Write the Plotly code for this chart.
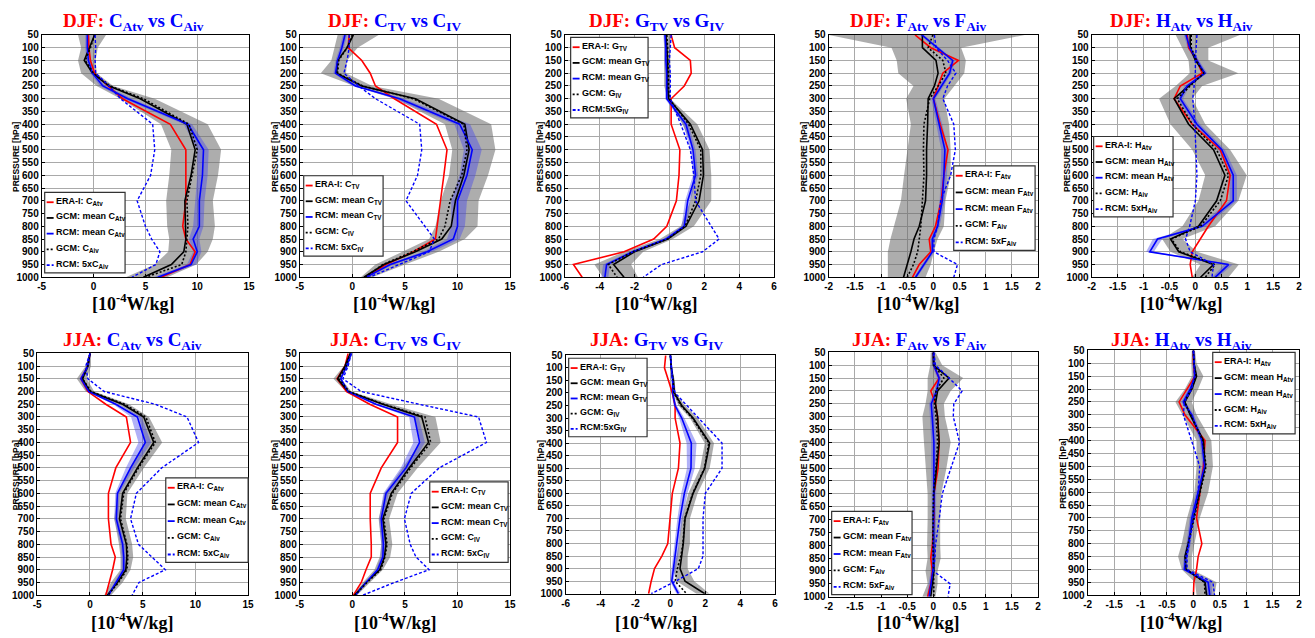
import plotly.graph_objects as go

# Pressure levels (hPa)
P = [50, 100, 150, 200, 250, 300, 400, 500, 600, 700, 800, 850, 900, 950, 1000]
Y_TICKS = list(range(50, 1001, 50))

# ---------------- DJF: C_Atv vs C_Aiv ----------------
DJF_CA_ERA = [-0.5, -0.45, -0.3, 0.1, 1.4, 2.8, 7.4, 8.9, 8.9, 8.9, 8.6, 8.9, 9.8, 9.3, 6.5]
DJF_CA_GCM = [0.1, -0.4, -0.9, -0.1, 1.5, 4.5, 9.0, 9.8, 9.4, 8.8, 8.9, 8.9, 8.7, 7.5, 4.8]
DJF_CA_RCM = [-0.6, -0.6, -0.5, -0.1, 0.9, 3.3, 9.1, 10.6, 10.5, 10.2, 10.2, 9.6, 10.0, 9.4, 6.2]
DJF_CA_GIV = [0.1, -0.3, -0.8, 0.0, 1.6, 4.8, 9.2, 10.0, 9.5, 9.0, 9.1, 9.0, 8.9, 8.5, 5.0]
DJF_CA_R5 = [0.15, 0.2, 0.15, 0.2, 1.5, 2.6, 5.7, 5.9, 5.5, 4.2, 5.0, 5.6, 6.4, 6.0, 3.7]
DJF_CA_GLO = [-1.5, -1.2, -1.5, -1.2, 0.3, 2.6, 6.5, 7.5, 7.3, 7.0, 7.1, 7.3, 7.2, 5.9, 3.1]
DJF_CA_GHI = [1.2, 0.4, 0.2, 0.3, 1.9, 5.9, 11.0, 12.3, 12.0, 11.5, 11.7, 11.5, 11.0, 9.9, 7.1]
DJF_CA_RLO = [-0.8, -0.8, -0.7, -0.3, 0.6, 2.9, 8.7, 10.0, 10.0, 9.8, 9.6, 9.2, 9.6, 9.0, 5.8]
DJF_CA_RHI = [-0.4, -0.4, -0.3, 0.1, 1.2, 3.7, 9.5, 11.1, 11.0, 10.7, 10.6, 10.2, 10.4, 9.9, 6.6]

# ---------------- DJF: C_TV vs C_IV ----------------
DJF_CT_ERA = [-0.3, -0.4, 0.9, 1.7, 2.2, 4.0, 8.0, 9.0, 8.7, 8.4, 8.1, 7.9, 5.8, 3.2, 1.3]
DJF_CT_GCM = [0.1, -0.5, -1.4, -1.5, 0.9, 6.0, 10.7, 11.1, 10.6, 9.8, 9.4, 8.5, 6.0, 3.0, 1.1]
DJF_CT_RCM = [-0.7, -1.0, -1.4, -1.6, 0.3, 4.5, 10.2, 11.4, 10.9, 10.0, 10.0, 9.6, 7.1, 3.6, 1.3]
DJF_CT_GIV = [0.0, -0.5, -1.3, -1.4, 1.0, 5.8, 10.6, 10.9, 10.4, 9.3, 8.8, 8.2, 5.7, 2.9, 1.2]
DJF_CT_R5 = [-0.3, -0.3, -0.5, -0.8, 0.6, 2.2, 6.4, 6.6, 6.2, 5.1, 6.9, 7.8, 7.3, 4.4, 1.6]
DJF_CT_GLO = [-1.4, -1.7, -2.0, -3.0, 0.2, 4.1, 8.8, 9.5, 9.2, 8.4, 7.9, 7.3, 4.7, 2.2, 0.8]
DJF_CT_GHI = [2.5, 0.5, -0.5, -0.6, 1.9, 8.2, 13.2, 13.6, 12.9, 12.0, 11.9, 10.7, 8.2, 5.0, 1.9]
DJF_CT_RLO = [-0.9, -1.2, -1.6, -1.8, 0.0, 4.0, 9.7, 10.6, 10.2, 9.4, 9.4, 9.0, 6.7, 3.3, 1.1]
DJF_CT_RHI = [-0.5, -0.8, -1.2, -1.4, 0.6, 4.9, 11.2, 12.3, 11.7, 10.9, 10.7, 10.2, 7.6, 3.9, 1.5]

# ---------------- DJF: G_TV vs G_IV ----------------
DJF_G_ERA = [0.1, 0.3, 1.2, 1.25, 0.85, 0.1, 0.1, 0.6, 0.55, 0.4, -0.15, -0.9, -2.6, -5.5, -5.0]
DJF_G_GCM = [-0.2, -0.15, -0.1, -0.1, -0.1, -0.05, 1.2, 1.9, 1.95, 1.7, 0.95, -0.1, -2.0, -3.2, -2.6]
DJF_G_RCM = [-0.25, -0.2, -0.2, -0.15, -0.15, -0.15, 0.95, 1.35, 1.5, 1.05, 0.85, -0.2, -2.1, -3.6, -3.7]
DJF_G_GIV = [-0.15, -0.1, -0.1, -0.05, -0.05, 0.0, 1.1, 1.8, 1.8, 1.5, 0.9, -0.1, -2.1, -3.5, -3.0]
DJF_G_R5 = [0.1, 0.05, 0.0, 0.05, 0.05, 0.05, 0.65, 1.2, 1.4, 1.5, 2.4, 2.85, 1.9, -0.45, -1.5]
DJF_G_GLO = [-0.3, -0.3, -0.3, -0.3, -0.3, -0.1, 0.75, 1.4, 1.4, 1.2, 0.65, -0.55, -2.6, -4.3, -3.8]
DJF_G_GHI = [0.1, 0.05, 0.05, 0.05, 0.05, 0.05, 1.6, 2.3, 2.4, 2.4, 1.4, 0.2, -1.5, -2.2, -1.8]
DJF_G_RLO = [-0.35, -0.3, -0.3, -0.25, -0.25, -0.25, 0.8, 1.2, 1.35, 0.9, 0.7, -0.35, -2.3, -3.8, -3.9]
DJF_G_RHI = [-0.15, -0.1, -0.1, -0.05, -0.05, -0.05, 1.1, 1.5, 1.65, 1.2, 1.0, -0.05, -1.9, -3.4, -3.5]

# ---------------- DJF: F_Atv vs F_Aiv ----------------
DJF_F_ERA = [-0.35, -0.05, 0.48, 0.18, 0.09, 0.0, 0.13, 0.28, 0.20, 0.15, 0.04, -0.08, -0.05, -0.27, -0.40]
DJF_F_GCM = [-0.21, -0.21, 0.05, 0.09, 0.02, -0.10, -0.11, -0.13, -0.13, -0.15, -0.27, -0.37, -0.43, -0.50, -0.57]
DJF_F_RCM = [-0.22, 0.08, 0.37, 0.31, 0.15, 0.00, 0.11, 0.22, 0.20, 0.17, 0.08, -0.02, -0.02, -0.18, -0.34]
DJF_F_GIV = [-0.01, -0.10, 0.18, 0.24, 0.09, -0.07, -0.18, -0.19, -0.18, -0.21, -0.24, -0.27, -0.30, -0.38, -0.50]
DJF_F_R5 = [0.02, 0.05, 0.27, 0.43, 0.27, 0.18, 0.39, 0.42, 0.33, 0.14, 0.08, 0.01, 0.01, 0.46, 0.39]
DJF_F_GLO = [-2.0, -0.8, -0.70, -0.67, -0.38, -0.52, -0.43, -0.50, -0.56, -0.62, -0.75, -0.82, -0.87, -0.87, -0.87]
DJF_F_GHI = [1.75, 0.53, 0.62, 0.59, 0.40, 0.21, 0.30, 0.33, 0.33, 0.23, 0.20, 0.08, 0.01, -0.05, -0.15]
DJF_F_RLO = [-0.26, 0.04, 0.33, 0.27, 0.10, -0.04, 0.05, 0.15, 0.14, 0.12, 0.04, -0.06, -0.06, -0.22, -0.37]
DJF_F_RHI = [-0.18, 0.12, 0.41, 0.35, 0.19, 0.04, 0.17, 0.28, 0.26, 0.22, 0.12, 0.02, 0.02, -0.14, -0.31]

# ---------------- DJF: H_Atv vs H_Aiv ----------------
DJF_H_ERA = [-0.16, -0.13, 0.03, 0.13, -0.29, -0.41, -0.06, 0.48, 0.67, 0.60, 0.25, 0.10, -0.06, -0.10, -0.06]
DJF_H_GCM = [-0.10, -0.10, 0.00, 0.18, -0.13, -0.41, -0.13, 0.35, 0.57, 0.41, 0.06, -0.48, -0.32, 0.35, 0.10]
DJF_H_RCM = [-0.18, -0.11, 0.03, 0.18, -0.16, -0.29, 0.03, 0.51, 0.73, 0.73, 0.13, -0.73, -0.88, 0.64, 0.38]
DJF_H_GIV = [-0.08, -0.08, 0.02, 0.16, -0.10, -0.35, -0.06, 0.41, 0.64, 0.48, 0.10, -0.46, -0.29, 0.38, 0.19]
DJF_H_R5 = [0.03, 0.01, 0.00, 0.00, -0.03, -0.05, -0.01, 0.01, 0.03, 0.00, -0.11, -0.19, -0.10, 0.35, 0.32]
DJF_H_GLO = [-0.38, -0.25, -0.13, -0.11, -0.38, -0.70, -0.48, -0.06, 0.19, 0.06, -0.25, -0.64, -0.48, 0.10, -0.06]
DJF_H_GHI = [0.86, 0.25, 0.25, 0.83, 0.13, -0.06, 0.19, 0.67, 0.99, 0.83, 0.38, -0.25, 0.03, 0.84, 0.64]
DJF_H_RLO = [-0.22, -0.15, -0.01, 0.13, -0.21, -0.34, -0.03, 0.45, 0.66, 0.66, 0.06, -0.82, -0.95, 0.56, 0.32]
DJF_H_RHI = [-0.14, -0.07, 0.07, 0.23, -0.11, -0.24, 0.09, 0.57, 0.80, 0.80, 0.20, -0.64, -0.80, 0.72, 0.44]

# ---------------- JJA: C_Atv vs C_Aiv ----------------
JJA_CA_ERA = [0.0, -0.2, -0.85, -0.2, 1.5, 3.45, 3.85, 2.45, 1.75, 1.75, 2.0, 2.4, 2.15, 1.8, 1.5]
JJA_CA_GCM = [0.0, -0.2, -0.7, 0.0, 3.1, 5.1, 6.05, 4.5, 3.1, 2.8, 3.45, 3.5, 3.4, 2.6, 1.65]
JJA_CA_RCM = [0.0, -0.2, -0.85, -0.1, 2.45, 4.5, 5.25, 3.85, 2.6, 2.5, 3.1, 3.2, 3.2, 2.45, 1.75]
JJA_CA_GIV = [0.0, -0.2, -0.7, 0.1, 3.3, 5.3, 6.2, 4.6, 3.2, 2.9, 3.5, 3.6, 3.5, 2.7, 1.7]
JJA_CA_R5 = [0.0, -0.4, -0.2, 1.35, 6.2, 9.2, 10.3, 6.8, 4.4, 3.85, 4.6, 5.9, 7.15, 4.65, 4.0]
JJA_CA_GLO = [-0.05, -0.4, -1.25, -0.4, 2.7, 4.65, 5.25, 3.85, 2.6, 2.3, 2.75, 2.9, 2.9, 2.0, 1.35]
JJA_CA_GHI = [0.1, 0.1, -0.3, 0.4, 3.7, 5.6, 6.85, 5.1, 3.55, 3.4, 4.0, 4.1, 3.85, 3.1, 2.0]
JJA_CA_RLO = [-0.05, -0.3, -1.0, -0.3, 2.2, 3.9, 4.6, 3.4, 2.4, 2.3, 2.9, 3.0, 3.0, 2.3, 1.6]
JJA_CA_RHI = [0.05, -0.1, -0.7, 0.1, 2.7, 4.9, 5.8, 4.2, 2.8, 2.7, 3.3, 3.4, 3.4, 2.6, 1.9]

# ---------------- JJA: C_TV vs C_IV ----------------
JJA_CT_ERA = [-0.4, -0.7, -1.45, -0.55, 1.65, 4.3, 4.3, 2.75, 1.7, 1.7, 1.8, 1.8, 1.3, 0.85, 0.1]
JJA_CT_GCM = [-0.2, -0.7, -1.4, -0.4, 2.9, 6.6, 7.25, 5.4, 3.7, 2.9, 3.2, 3.05, 2.6, 1.3, 0.2]
JJA_CT_RCM = [-0.1, -0.55, -1.1, -0.4, 2.25, 5.9, 6.4, 5.1, 3.2, 2.75, 2.95, 2.9, 2.4, 1.3, 0.3]
JJA_CT_GIV = [-0.2, -0.6, -1.3, -0.3, 3.0, 6.9, 7.45, 5.55, 3.8, 3.0, 3.3, 3.1, 2.7, 1.4, 0.25]
JJA_CT_R5 = [-0.1, -0.4, -0.9, 0.85, 6.35, 12.0, 12.75, 8.25, 5.6, 4.95, 5.5, 6.05, 7.3, 4.0, 1.0]
JJA_CT_GLO = [-0.25, -0.8, -1.8, -0.6, 2.6, 5.9, 6.5, 4.8, 3.05, 2.5, 2.75, 2.6, 2.1, 1.0, 0.1]
JJA_CT_GHI = [0.0, -0.4, -1.05, -0.1, 3.7, 7.9, 8.4, 6.2, 4.3, 3.5, 3.8, 3.6, 2.9, 1.65, 0.45]
JJA_CT_RLO = [-0.2, -0.65, -1.2, -0.5, 2.0, 5.4, 5.8, 4.6, 2.95, 2.55, 2.75, 2.7, 2.25, 1.2, 0.2]
JJA_CT_RHI = [0.0, -0.45, -1.0, -0.3, 2.5, 6.3, 6.9, 5.5, 3.45, 2.95, 3.15, 3.1, 2.55, 1.4, 0.4]

# ---------------- JJA: G_TV vs G_IV ----------------
JJA_G_ERA = [-0.27, -0.34, -0.11, 0.11, 0.27, 0.27, 0.55, 0.46, 0.11, -0.02, -0.15, -0.49, -0.91, -1.1, -1.25]
JJA_G_GCM = [0.0, 0.05, 0.17, 0.23, 0.65, 1.3, 2.25, 1.97, 1.3, 0.84, 0.74, 0.65, 0.55, 0.84, 1.97]
JJA_G_RCM = [0.0, 0.08, 0.13, 0.13, 0.27, 0.65, 1.2, 1.18, 0.8, 0.55, 0.36, 0.3, 0.17, 0.08, 0.46]
JJA_G_GIV = [0.0, 0.05, 0.15, 0.2, 0.6, 1.25, 2.2, 1.95, 1.28, 0.82, 0.72, 0.6, 0.4, 0.27, 0.93]
JJA_G_R5 = [0.0, 0.04, 0.11, 0.27, 0.93, 1.6, 2.96, 2.96, 2.0, 1.87, 1.87, 1.87, 1.6, 0.3, -1.1]
JJA_G_GLO = [-0.05, 0.0, 0.1, 0.15, 0.46, 1.12, 1.97, 1.7, 1.03, 0.65, 0.49, 0.36, 0.17, 0.36, 1.5]
JJA_G_GHI = [0.05, 0.1, 0.25, 0.3, 0.84, 1.56, 2.5, 2.25, 1.56, 1.12, 1.12, 0.99, 0.99, 1.37, 2.25]
JJA_G_RLO = [-0.03, 0.03, 0.07, 0.07, 0.18, 0.5, 0.93, 0.95, 0.62, 0.4, 0.22, 0.16, 0.05, -0.02, 0.35]
JJA_G_RHI = [0.03, 0.12, 0.19, 0.19, 0.36, 0.8, 1.5, 1.4, 0.98, 0.7, 0.5, 0.44, 0.3, 0.18, 0.6]

# ---------------- JJA: F_Atv vs F_Aiv ----------------
JJA_F_ERA = [0.0, 0.01, 0.11, -0.05, 0.04, 0.08, 0.11, 0.09, 0.01, 0.01, -0.02, -0.05, -0.02, -0.05, -0.11]
JJA_F_GCM = [0.0, 0.0, 0.30, 0.08, 0.04, 0.08, 0.11, 0.06, 0.01, 0.0, 0.0, 0.01, 0.01, -0.02, -0.05]
JJA_F_RCM = [0.0, 0.01, 0.11, 0.06, -0.04, -0.02, 0.01, 0.01, 0.01, 0.01, 0.01, 0.0, -0.01, -0.05, -0.08]
JJA_F_GIV = [0.0, 0.01, 0.20, 0.05, 0.02, 0.05, 0.08, 0.05, 0.0, -0.01, -0.01, 0.0, 0.0, 0.0, 0.01]
JJA_F_R5 = [0.01, 0.04, 0.30, 0.55, 0.39, 0.38, 0.50, 0.33, 0.17, 0.11, 0.04, 0.03, 0.0, 0.32, 0.28]
JJA_F_GLO = [-0.05, -0.06, -0.11, -0.11, -0.15, -0.21, -0.18, -0.15, -0.11, -0.11, -0.12, -0.11, -0.15, -0.11, -0.21]
JJA_F_GHI = [0.04, 0.17, 0.57, 0.33, 0.20, 0.22, 0.33, 0.25, 0.15, 0.13, 0.13, 0.14, 0.08, 0.08, 0.04]
JJA_F_RLO = [-0.02, -0.02, 0.07, 0.02, -0.08, -0.07, -0.04, -0.04, -0.03, -0.03, -0.03, -0.04, -0.05, -0.09, -0.12]
JJA_F_RHI = [0.02, 0.04, 0.15, 0.10, 0.00, 0.03, 0.06, 0.06, 0.05, 0.05, 0.05, 0.04, 0.03, -0.01, -0.04]

# ---------------- JJA: H_Atv vs H_Aiv ----------------
JJA_H_ERA = [0.0, 0.0, 0.03, -0.12, -0.27, -0.16, 0.22, 0.19, 0.12, 0.06, 0.16, 0.09, 0.06, 0.01, 0.0]
JJA_H_GCM = [0.0, 0.01, 0.06, -0.03, -0.16, -0.06, 0.19, 0.22, 0.12, 0.0, -0.10, -0.16, -0.14, 0.22, 0.25]
JJA_H_RCM = [0.0, 0.01, 0.03, -0.06, -0.19, -0.03, 0.16, 0.21, 0.09, -0.03, -0.09, -0.14, -0.17, 0.28, 0.31]
JJA_H_GIV = [0.0, 0.01, 0.05, -0.04, -0.17, -0.05, 0.18, 0.24, 0.13, 0.01, -0.09, -0.15, -0.13, 0.21, 0.22]
JJA_H_R5 = [0.0, 0.01, 0.02, -0.03, -0.17, -0.19, -0.03, 0.12, 0.09, 0.0, -0.08, -0.12, -0.12, 0.37, 0.40]
JJA_H_GLO = [-0.03, -0.04, -0.03, -0.16, -0.34, -0.21, 0.06, 0.06, 0.02, -0.12, -0.22, -0.29, -0.22, 0.03, 0.06]
JJA_H_GHI = [0.03, 0.06, 0.19, 0.09, -0.03, 0.06, 0.34, 0.37, 0.28, 0.12, 0.02, -0.03, -0.03, 0.44, 0.40]
JJA_H_RLO = [-0.02, -0.01, 0.0, -0.1, -0.23, -0.07, 0.12, 0.17, 0.05, -0.07, -0.13, -0.18, -0.21, 0.22, 0.26]
JJA_H_RHI = [0.02, 0.03, 0.06, -0.02, -0.15, 0.01, 0.20, 0.25, 0.13, 0.01, -0.05, -0.10, -0.13, 0.34, 0.36]

# x-axis tick sets
X_TICKS_C = [-5, 0, 5, 10, 15]
X_TICKS_G = [-6, -4, -2, 0, 2, 4, 6]
X_TICKS_FH = [-2, -1.5, -1, -0.5, 0, 0.5, 1, 1.5, 2]

# ---------------- layout geometry (pixels) ----------------
W, H = 1315, 638


def fx(px):
    return px / W


def fy(py):
    return 1 - py / H


RED, BLACK, BLUE = "#ff0000", "#000000", "#0000ff"
GRAY_FILL = "rgba(105,105,105,0.55)"
BLUE_FILL = "rgba(70,70,235,0.42)"
SANS = "Liberation Sans"
SERIF = "Liberation Serif"


def tick_text(v):
    return "%g" % v


panels = [
    dict(season="DJF", L="C", st="Atv", si="Aiv", five="RCM: 5x", xt=X_TICKS_C,
         box=(38, 29.5, 247, 276.5), title_x=130, leg=(41, 190, 122, 272),
         d=(DJF_CA_ERA, DJF_CA_GCM, DJF_CA_RCM, DJF_CA_GIV, DJF_CA_R5, DJF_CA_GLO, DJF_CA_GHI, DJF_CA_RLO, DJF_CA_RHI)),
    dict(season="DJF", L="C", st="TV", si="IV", five="RCM: 5x", xt=X_TICKS_C,
         box=(298, 29.5, 510, 276.5), title_x=393, leg=(302, 173, 382, 255),
         d=(DJF_CT_ERA, DJF_CT_GCM, DJF_CT_RCM, DJF_CT_GIV, DJF_CT_R5, DJF_CT_GLO, DJF_CT_GHI, DJF_CT_RLO, DJF_CT_RHI)),
    dict(season="DJF", L="G", st="TV", si="IV", five="RCM:5x", xt=X_TICKS_G,
         box=(565, 29.5, 776, 276.5), title_x=658, leg=(571, 32, 649, 114),
         d=(DJF_G_ERA, DJF_G_GCM, DJF_G_RCM, DJF_G_GIV, DJF_G_R5, DJF_G_GLO, DJF_G_GHI, DJF_G_RLO, DJF_G_RHI)),
    dict(season="DJF", L="F", st="Atv", si="Aiv", five="RCM: 5x", xt=X_TICKS_FH,
         box=(831, 29.5, 1042, 276.5), title_x=922, leg=(957, 163, 1039, 249),
         d=(DJF_F_ERA, DJF_F_GCM, DJF_F_RCM, DJF_F_GIV, DJF_F_R5, DJF_F_GLO, DJF_F_GHI, DJF_F_RLO, DJF_F_RHI)),
    dict(season="DJF", L="H", st="Atv", si="Aiv", five="RCM: 5x", xt=X_TICKS_FH,
         box=(1096, 29.5, 1305, 276.5), title_x=1187, leg=(1098, 133, 1178, 215),
         d=(DJF_H_ERA, DJF_H_GCM, DJF_H_RCM, DJF_H_GIV, DJF_H_R5, DJF_H_GLO, DJF_H_GHI, DJF_H_RLO, DJF_H_RHI)),
    dict(season="JJA", L="C", st="Atv", si="Aiv", five="RCM: 5x", xt=X_TICKS_C,
         box=(33.5, 354, 246, 600.5), title_x=129, leg=(163, 481, 246, 567),
         d=(JJA_CA_ERA, JJA_CA_GCM, JJA_CA_RCM, JJA_CA_GIV, JJA_CA_R5, JJA_CA_GLO, JJA_CA_GHI, JJA_CA_RLO, JJA_CA_RHI)),
    dict(season="JJA", L="C", st="TV", si="IV", five="RCM: 5x", xt=X_TICKS_C,
         box=(298, 354, 510, 600.5), title_x=394, leg=(429, 485, 508, 567),
         d=(JJA_CT_ERA, JJA_CT_GCM, JJA_CT_RCM, JJA_CT_GIV, JJA_CT_R5, JJA_CT_GLO, JJA_CT_GHI, JJA_CT_RLO, JJA_CT_RHI)),
    dict(season="JJA", L="G", st="TV", si="IV", five="RCM:5x", xt=X_TICKS_G,
         box=(566, 356, 777, 599), title_x=658, leg=(569, 359, 648, 439),
         d=(JJA_G_ERA, JJA_G_GCM, JJA_G_RCM, JJA_G_GIV, JJA_G_R5, JJA_G_GLO, JJA_G_GHI, JJA_G_RLO, JJA_G_RHI)),
    dict(season="JJA", L="F", st="Atv", si="Aiv", five="RCM: 5x", xt=X_TICKS_FH,
         box=(831, 353, 1042, 602), title_x=922, leg=(834, 515, 915, 600),
         d=(JJA_F_ERA, JJA_F_GCM, JJA_F_RCM, JJA_F_GIV, JJA_F_R5, JJA_F_GLO, JJA_F_GHI, JJA_F_RLO, JJA_F_RHI)),
    dict(season="JJA", L="H", st="Atv", si="Aiv", five="RCM: 5x", xt=X_TICKS_FH,
         box=(1092, 351, 1305, 600.5), title_x=1187, leg=(1218, 353, 1301, 436),
         d=(JJA_H_ERA, JJA_H_GCM, JJA_H_RCM, JJA_H_GIV, JJA_H_R5, JJA_H_GLO, JJA_H_GHI, JJA_H_RLO, JJA_H_RHI)),
]

fig = go.Figure()
annotations = []
shapes = []
layout_axes = {}

for k, pn in enumerate(panels, start=1):
    xa = "x" if k == 1 else "x%d" % k
    ya = "y" if k == 1 else "y%d" % k
    era, gcm, rcm, giv, r5, glo, ghi, rlo, rhi = pn["d"]
    L, st, si = pn["L"], pn["st"], pn["si"]

    # GCM spread band
    fig.add_trace(go.Scatter(x=glo + ghi[::-1], y=P + P[::-1], fill="toself",
                             fillcolor=GRAY_FILL, line=dict(width=0), mode="lines",
                             hoverinfo="skip", showlegend=False, xaxis=xa, yaxis=ya))
    # RCM spread band
    fig.add_trace(go.Scatter(x=rlo + rhi[::-1], y=P + P[::-1], fill="toself",
                             fillcolor=BLUE_FILL, line=dict(width=0), mode="lines",
                             hoverinfo="skip", showlegend=False, xaxis=xa, yaxis=ya))
    # profiles
    series = [
        (era, RED, "solid", 1.6),
        (gcm, BLACK, "solid", 1.6),
        (rcm, BLUE, "solid", 1.6),
        (giv, BLACK, "2px,2px", 1.6),
        (r5, BLUE, "3px,2px", 1.4),
    ]
    for xs, col, dash, wd in series:
        fig.add_trace(go.Scatter(x=xs, y=P, mode="lines",
                                 line=dict(color=col, width=wd, dash=dash),
                                 showlegend=False, xaxis=xa, yaxis=ya))

    x0, y0, x1, y1 = pn["box"]
    xt = pn["xt"]
    layout_axes["xaxis" if k == 1 else "xaxis%d" % k] = dict(
        domain=[fx(x0), fx(x1)], anchor=ya, range=[xt[0], xt[-1]],
        tickvals=xt, ticktext=[tick_text(v) for v in xt],
        showgrid=True, gridcolor="#a9a9a9", gridwidth=1, zeroline=False,
        showline=True, mirror=True, linecolor="black", linewidth=1,
        ticks="inside", ticklen=3, tickcolor="black",
        tickfont=dict(family=SANS, size=10, color="black", weight="bold"),
    )
    layout_axes["yaxis" if k == 1 else "yaxis%d" % k] = dict(
        domain=[fy(y1), fy(y0)], anchor=xa, range=[1000, 50],
        tickvals=Y_TICKS, ticktext=[str(v) for v in Y_TICKS],
        showgrid=True, gridcolor="#a9a9a9", gridwidth=1, zeroline=False,
        showline=True, mirror=True, linecolor="black", linewidth=1,
        ticks="inside", ticklen=3, tickcolor="black",
        tickfont=dict(family=SANS, size=10, color="black", weight="bold"),
    )

    # panel title
    top_y = 16 if pn["season"] == "DJF" else 341
    title = ("<b><span style='color:%s'>%s:</span> <span style='color:%s'>%s<sub>%s</sub> vs %s<sub>%s</sub></span></b>"
             % (RED, pn["season"], BLUE, L, st, L, si))
    annotations.append(dict(x=fx(pn["title_x"]), y=fy(top_y), xref="paper", yref="paper",
                            text=title, showarrow=False, xanchor="center", yanchor="middle",
                            font=dict(family=SERIF, size=19)))
    # x-axis title
    xt_y = 302 if pn["season"] == "DJF" else 627
    annotations.append(dict(x=fx(pn["title_x"]), y=fy(xt_y), xref="paper", yref="paper",
                            text="<b>[10<sup>-4</sup>W/kg]</b>", showarrow=False,
                            xanchor="center", yanchor="middle",
                            font=dict(family=SERIF, size=18, color="black")))
    # y-axis title
    ylab_x = x0 - 25 if x0 > 40 else 12
    annotations.append(dict(x=fx(ylab_x), y=fy((y0 + y1) / 2), xref="paper", yref="paper",
                            text="<b>PRESSURE [hPa]</b>", showarrow=False, textangle=-90,
                            xanchor="center", yanchor="middle",
                            font=dict(family=SANS, size=8.5, color="black")))

    # legend box
    lx0, ly0, lx1, ly1 = pn["leg"]
    shapes.append(dict(type="rect", xref="paper", yref="paper",
                       x0=fx(lx0), x1=fx(lx1), y0=fy(ly1), y1=fy(ly0),
                       fillcolor="white", line=dict(color="#333333", width=1.2), layer="above"))
    labels = [
        "ERA-I: %s<sub>%s</sub>" % (L, st),
        "GCM: mean %s<sub>%s</sub>" % (L, st),
        "RCM: mean %s<sub>%s</sub>" % (L, st),
        "GCM: %s<sub>%s</sub>" % (L, si),
        "%s%s<sub>%s</sub>" % (pn["five"], L, si),
    ]
    step = (ly1 - ly0 - 18) / 4.0
    for i, ((xs, col, dash, wd), lab) in enumerate(zip(series, labels)):
        ey = ly0 + 9 + i * step
        shapes.append(dict(type="line", xref="paper", yref="paper",
                           x0=fx(lx0 + 2), x1=fx(lx0 + 9), y0=fy(ey + 1), y1=fy(ey + 1),
                           line=dict(color=col, width=1.8, dash=dash), layer="above"))
        annotations.append(dict(x=fx(lx0 + 9.5), y=fy(ey), xref="paper", yref="paper",
                                text="<b>%s</b>" % lab, showarrow=False,
                                xanchor="left", yanchor="middle",
                                font=dict(family=SANS, size=9, color="black")))

fig.update_layout(
    width=W, height=H, margin=dict(l=0, r=0, t=0, b=0),
    paper_bgcolor="white", plot_bgcolor="white",
    showlegend=False, annotations=annotations, shapes=shapes,
    **layout_axes,
)

fig.write_html("out.html")
